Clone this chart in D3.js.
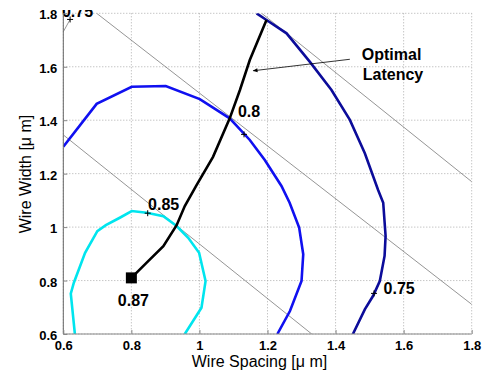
<!DOCTYPE html>
<html>
<head>
<meta charset="utf-8">
<script src="https://cdn.jsdelivr.net/npm/d3@7"></script>
<style>
  body { margin: 0; background: #fff; }
  #svgDiv { width: 493px; height: 376px; }
  text { font-family: Arial, "Liberation Sans", sans-serif; }
</style>
</head>
<body>
<div id="svgDiv"></div>
<script>
//chart values (data units, um)
var xTicks = [0.6, 0.8, 1, 1.2, 1.4, 1.6, 1.8];
var yTicks = [0.6, 0.8, 1, 1.2, 1.4, 1.6, 1.8];

//contour 0.85 (cyan)
var c85x = [0.634, 0.622, 0.631, 0.664, 0.700, 0.725, 0.766, 0.801, 0.845, 0.894, 0.933, 0.967, 0.999, 1.018, 1.006, 0.957];
var c85y = [0.600, 0.751, 0.792, 0.904, 0.985, 1.007, 1.035, 1.060, 1.054, 1.041, 1.004, 0.960, 0.904, 0.798, 0.698, 0.600];

//contour 0.8 (blue)
var c80x = [0.600, 0.698, 0.801, 0.901, 1.001, 1.089, 1.148, 1.192, 1.241, 1.265, 1.293, 1.305, 1.300, 1.266, 1.229];
var c80y = [1.301, 1.461, 1.525, 1.528, 1.479, 1.407, 1.326, 1.251, 1.154, 1.091, 0.998, 0.898, 0.798, 0.686, 0.600];

//contour 0.75 (dark blue)
var c75x = [1.168, 1.197, 1.256, 1.324, 1.388, 1.442, 1.486, 1.525, 1.540, 1.547, 1.544, 1.530, 1.510, 1.486, 1.451];
var c75y = [1.800, 1.775, 1.725, 1.619, 1.513, 1.401, 1.276, 1.139, 1.091, 0.967, 0.892, 0.798, 0.742, 0.692, 0.600];

//optimal latency path (black)
var optX = [0.800, 0.845, 0.894, 0.933, 0.957, 0.992, 1.040, 1.089, 1.119, 1.148, 1.197];
var optY = [0.810, 0.867, 0.929, 1.007, 1.079, 1.158, 1.263, 1.407, 1.513, 1.625, 1.775];

//thin gray lines, start and end points
var grayX = [[0.698, 1.800], [1.183, 1.800], [0.600, 1.330], [0.600, 0.620]];
var grayY = [[1.800, 0.711], [1.800, 1.170], [1.345, 0.600], [1.731, 1.777]];

//contour labels
var labelText = ["0.85", "0.8", "0.75", "0.75"];
var labelX = [0.849, 1.113, 1.541, 0.596];
var labelY = [1.063, 1.412, 0.750, 1.788];
var plusX = [0.848, 1.131, 1.513, 0.620];
var plusY = [1.052, 1.347, 0.752, 1.777];

var optPoint = [0.8, 0.81];
var optValue = "0.87";

var svg, xScale, yScale;
var margin = {left: 63.3, right: 471.7, top: 13.3, bottom: 334};

document.addEventListener('DOMContentLoaded', function(){

    svg = d3.select("#svgDiv")
        .append("svg")
        .attr("width", 493)
        .attr("height", 376);

    xScale = d3.scaleLinear().domain([0.6, 1.8]).range([margin.left, margin.right]);
    yScale = d3.scaleLinear().domain([0.6, 1.8]).range([margin.bottom, margin.top]);

    svg.append("defs").append("clipPath")
        .attr("id", "plotClip")
        .append("rect")
        .attr("x", margin.left)
        .attr("y", margin.top)
        .attr("width", margin.right - margin.left)
        .attr("height", margin.bottom - margin.top);

    svg.select("defs").append("clipPath")
        .attr("id", "labelClip")
        .append("rect")
        .attr("x", 0).attr("y", 10).attr("width", 493).attr("height", 366);

    svg.select("defs").append("marker")
        .attr("id", "arrowHead")
        .attr("viewBox", "0 0 10 10")
        .attr("refX", 9).attr("refY", 5)
        .attr("markerWidth", 7).attr("markerHeight", 6)
        .attr("orient", "auto")
        .append("path")
        .attr("d", "M0,1 L10,5 L0,9 z")
        .attr("fill", "#000");

    drawGrid();
    drawLines();
    drawLabels();
    drawAxes();
});

//dotted grid
function drawGrid(){
    var grid = svg.append("g");

    grid.selectAll(".vg").data(xTicks).enter().append("line")
        .attr("x1", function(d){ return xScale(d); })
        .attr("x2", function(d){ return xScale(d); })
        .attr("y1", margin.top).attr("y2", margin.bottom)
        .attr("stroke", "#999").attr("stroke-width", 0.8)
        .attr("stroke-dasharray", "1,2");

    grid.selectAll(".hg").data(yTicks).enter().append("line")
        .attr("y1", function(d){ return yScale(d); })
        .attr("y2", function(d){ return yScale(d); })
        .attr("x1", margin.left).attr("x2", margin.right)
        .attr("stroke", "#999").attr("stroke-width", 0.8)
        .attr("stroke-dasharray", "1,2");
}

function drawLines(){
    var g = svg.append("g").attr("clip-path", "url(#plotClip)");

    var line = d3.line()
        .x(function(d){ return xScale(d[0]); })
        .y(function(d){ return yScale(d[1]); });

    //gray lines
    grayX.forEach(function(xs, i){
        g.append("path")
            .datum(d3.zip(xs, grayY[i]))
            .attr("d", line)
            .attr("fill", "none")
            .attr("stroke", "#7a7a7a")
            .attr("stroke-width", 0.8);
    });

    g.append("path").datum(d3.zip(c85x, c85y)).attr("d", line)
        .attr("fill", "none").attr("stroke", "#00e5ee").attr("stroke-width", 2.6);
    g.append("path").datum(d3.zip(c80x, c80y)).attr("d", line)
        .attr("fill", "none").attr("stroke", "#1010f0").attr("stroke-width", 2.6);
    g.append("path").datum(d3.zip(c75x, c75y)).attr("d", line)
        .attr("fill", "none").attr("stroke", "#0c0c9a").attr("stroke-width", 2.6);

    g.append("path").datum(d3.zip(optX, optY)).attr("d", line)
        .attr("fill", "none").attr("stroke", "#000").attr("stroke-width", 2.6);

    g.append("rect")
        .attr("x", xScale(optPoint[0]) - 5.5)
        .attr("y", yScale(optPoint[1]) - 5.5)
        .attr("width", 11).attr("height", 11)
        .attr("fill", "#000");

    //plus marks for contour labels
    plusX.forEach(function(px, i){
        var cx = xScale(px), cy = yScale(plusY[i]);
        g.append("path")
            .attr("d", "M" + (cx - 3) + "," + cy + "H" + (cx + 3) + "M" + cx + "," + (cy - 3) + "V" + (cy + 3))
            .attr("stroke", "#000").attr("stroke-width", 1);
    });
}

function drawLabels(){
    var g = svg.append("g").attr("clip-path", "url(#labelClip)");

    labelText.forEach(function(t, i){
        g.append("text")
            .attr("x", xScale(labelX[i]))
            .attr("y", yScale(labelY[i]))
            .attr("font-size", "16px")
            .attr("font-weight", "bold")
            .text(t);
    });

    svg.append("text")
        .attr("x", xScale(optPoint[0]) + 2)
        .attr("y", yScale(0.705))
        .attr("text-anchor", "middle")
        .attr("font-size", "16px")
        .attr("font-weight", "bold")
        .text(optValue);

    svg.append("text")
        .attr("x", xScale(1.477)).attr("y", yScale(1.627))
        .attr("font-size", "16px").attr("font-weight", "bold")
        .text("Optimal");
    svg.append("text")
        .attr("x", xScale(1.480)).attr("y", yScale(1.550))
        .attr("font-size", "16px").attr("font-weight", "bold")
        .text("Latency");

    svg.append("line")
        .attr("x1", xScale(1.442)).attr("y1", yScale(1.628))
        .attr("x2", xScale(1.158)).attr("y2", yScale(1.585))
        .attr("stroke", "#000").attr("stroke-width", 0.8)
        .attr("marker-end", "url(#arrowHead)");
}

function drawAxes(){
    //left and bottom solid, top and right stay dotted like the grid
    svg.append("line")
        .attr("x1", margin.left).attr("x2", margin.left)
        .attr("y1", margin.top).attr("y2", margin.bottom)
        .attr("stroke", "#666").attr("stroke-width", 1);
    svg.append("line")
        .attr("x1", margin.left).attr("x2", margin.right)
        .attr("y1", margin.bottom).attr("y2", margin.bottom)
        .attr("stroke", "#888").attr("stroke-width", 1);

    var xAxis = d3.axisBottom(xScale).tickValues(xTicks)
        .tickSize(-4).tickPadding(7)
        .tickFormat(d3.format("~g"));
    var yAxis = d3.axisLeft(yScale).tickValues(yTicks)
        .tickSize(-4).tickPadding(6)
        .tickFormat(d3.format("~g"));

    var gx = svg.append("g")
        .attr("transform", "translate(0," + margin.bottom + ")")
        .call(xAxis);
    var gy = svg.append("g")
        .attr("transform", "translate(" + margin.left + ",0)")
        .call(yAxis);

    [gx, gy].forEach(function(a){
        a.select(".domain").remove();
        a.selectAll("line").attr("stroke", "#888");
        a.selectAll("text")
            .attr("fill", "#000")
            .attr("font-size", "13px")
            .attr("font-weight", "bold")
            .style("font-family", "Arial, 'Liberation Sans', sans-serif");
    });
    gy.selectAll("text").attr("dy", "0.42em");

    svg.append("text")
        .attr("x", (margin.left + margin.right) / 2 - 8)
        .attr("y", 367)
        .attr("text-anchor", "middle")
        .attr("font-size", "16px")
        .text("Wire Spacing [\u03bc m]");

    svg.append("text")
        .attr("transform", "translate(31," + 174 + ") rotate(-90)")
        .attr("text-anchor", "middle")
        .attr("font-size", "16px")
        .text("Wire Width [\u03bc m]");
}
</script>
</body>
</html>
